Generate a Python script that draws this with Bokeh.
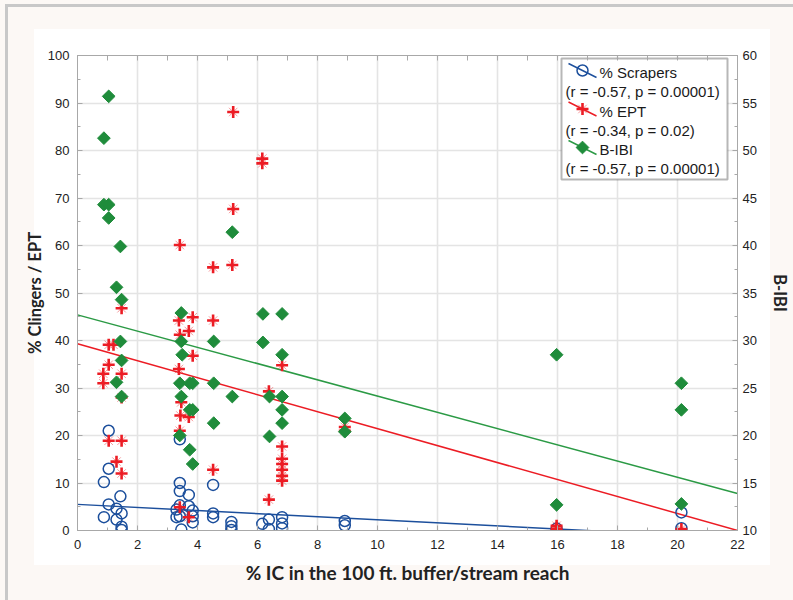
import numpy as np
from bokeh.plotting import figure
from bokeh.models import Range1d, LinearAxis, Label, BoxAnnotation, SingleIntervalTicker, FixedTicker
from bokeh.embed import file_html
from bokeh.resources import INLINE

# ---------------- data ----------------
# % Scrapers (left axis)
scr_x = [1.04, 1.04, 0.88, 1.43, 1.04, 1.30, 1.47, 0.88, 1.30, 1.47, 1.47,
         3.41, 3.41, 3.41, 3.71, 3.41, 3.71, 3.84, 3.30, 3.41, 3.30, 3.84, 3.84, 3.46,
         4.52, 4.52, 4.52, 5.13, 5.13, 5.13,
         6.16, 6.38, 6.38, 6.82, 6.82, 6.82,
         8.91, 8.91, 15.97, 20.13, 20.13]
scr_y = [21.0, 13.0, 10.2, 7.2, 5.5, 4.6, 3.6, 2.8, 2.3, 0.8, 0.1,
         19.2, 10.0, 8.3, 7.5, 5.3, 5.1, 4.2, 4.4, 3.0, 2.8, 3.0, 1.7, 0.2,
         9.6, 3.6, 2.8, 1.8, 0.9, 0.1,
         1.4, 2.3, 0.3, 2.8, 1.5, 0.5,
         2.0, 1.1, 0.4, 3.8, 0.5]

# % EPT (left axis)
ept_x = [1.47, 1.04, 1.20, 1.04, 0.86, 1.47, 0.86, 1.47, 1.04, 1.47, 1.30, 1.47,
         3.41, 3.38, 3.84, 3.41, 3.71, 3.84, 3.38, 3.46, 3.43, 3.71, 3.41, 3.41, 3.71,
         4.52, 4.52, 4.52, 5.19, 5.19, 5.16,
         6.16, 6.16, 6.38, 6.38, 6.82, 6.82, 6.82, 6.82, 6.82, 6.82, 6.82,
         8.91, 8.91, 15.97, 15.97, 20.13]
ept_y = [46.8, 39.1, 39.1, 34.9, 33.0, 33.0, 31.0, 28.0, 18.9, 18.9, 14.5, 12.0,
         60.1, 44.2, 44.9, 41.2, 42.0, 36.8, 34.0, 27.0, 24.2, 23.9, 21.0, 4.9, 2.8,
         55.4, 44.2, 12.8, 88.1, 67.7, 55.9,
         78.3, 77.3, 29.3, 6.5, 34.8, 17.7, 15.1, 14.0, 12.8, 11.5, 10.5,
         21.8, 21.0, 1.0, 0.4, 0.3]

# B-IBI (right axis)
ibi_x = [1.04, 0.88, 0.88, 1.04, 1.04, 1.43, 1.30, 1.47, 1.43, 1.47, 1.30, 1.47,
         3.46, 3.46, 3.49, 3.41, 3.74, 3.84, 3.46, 3.74, 3.84, 3.41, 3.74, 3.84,
         4.54, 4.54, 4.54, 5.16, 5.16,
         6.18, 6.18, 6.40, 6.40, 6.82, 6.82, 6.82, 6.82, 6.82,
         8.91, 8.91, 15.97, 15.97, 20.13, 20.13, 20.13]
ibi_y = [55.7, 51.3, 44.3, 44.3, 42.9, 39.9, 35.6, 34.3, 29.9, 27.9, 25.6, 24.1,
         32.9, 29.9, 28.5, 25.5, 25.5, 25.5, 24.1, 22.7, 22.7, 20.0, 18.5, 17.0,
         29.9, 25.5, 21.3, 41.4, 24.1,
         32.8, 29.8, 24.1, 19.9, 32.8, 28.5, 24.1, 22.7, 21.3,
         21.8, 20.4, 28.5, 12.7, 25.5, 22.7, 12.8]

# fitted lines: [intercept, slope]
fit_x = [0, 22]
scr_fit = [5.5, -0.324]
ept_fit = [39.3, -1.786]
ibi_fit = [32.7, -0.855]

legend_names = ["% Scrapers", "% EPT", "B-IBI"]
legend_stats = ["(r = -0.57, p = 0.00001)", "(r = -0.34, p = 0.02)", "(r = -0.57, p = 0.00001)"]

x_ticks_step, y_ticks_step, ibi_ticks_step = 2, 10, 5
top_minor_ticks = list(range(0, 23))

# ---------------- styles ----------------
BLUE = "#1c4f9c"
RED = "#ec1c24"
GREEN = "#1f8c3b"
GREEN_LINE = "#2b9a45"
AX = "#a8a8a8"
TXT = "#222222"

W, H = 793, 600
FL, FR, FT, FB = 77, 737, 55, 530   # frame edges in figure pixels

p = figure(width=W, height=H, output_backend="svg", toolbar_location=None,
           x_range=Range1d(0, 22), y_range=Range1d(0, 100),
           min_border_left=FL, min_border_right=W - FR,
           min_border_top=FT, min_border_bottom=H - FB)
p.extra_y_ranges = {"ibi": Range1d(10, 60)}

p.border_fill_color = None
p.background_fill_color = "white"
p.outline_line_color = AX
p.styles = {"background": (
    "linear-gradient(#c8c8c8,#c8c8c8) 5px 4px/3px 100% no-repeat, "
    "linear-gradient(#c8c8c8,#c8c8c8) 5px 4px/100% 3px no-repeat, "
    "linear-gradient(#ffffff,#ffffff) 34px 29px/736px 536px no-repeat, "
    "#fcf8f5")}


def style_axis(ax):
    ax.axis_line_color = AX
    ax.major_tick_line_color = AX
    ax.minor_tick_line_color = AX
    ax.major_tick_in = 5
    ax.major_tick_out = 0
    ax.minor_tick_in = 3
    ax.minor_tick_out = 0
    ax.major_label_text_font = "Liberation Sans"
    ax.major_label_text_font_size = "13px"
    ax.major_label_text_color = TXT
    ax.axis_label_text_font = "Lato"
    ax.axis_label_text_font_style = "bold"
    ax.axis_label_text_font_size = "17px"
    ax.axis_label_text_color = TXT


xa = p.xaxis[0]
xa.ticker = SingleIntervalTicker(interval=x_ticks_step, num_minor_ticks=2)
xa.axis_label = "% IC in the 100 ft. buffer/stream reach"
style_axis(xa)
xa.axis_label_text_font_size = "19px"
xa.major_label_standoff = 9
xa.axis_label_standoff = 9

ya = p.yaxis[0]
ya.ticker = SingleIntervalTicker(interval=y_ticks_step, num_minor_ticks=2)
ya.axis_label = "% Clingers / EPT"
style_axis(ya)
ya.axis_label_text_font_size = "16.5px"
ya.major_label_standoff = 8
ya.axis_label_standoff = 0

ra = LinearAxis(y_range_name="ibi", axis_label="B-IBI",
                ticker=SingleIntervalTicker(interval=ibi_ticks_step, num_minor_ticks=2))
style_axis(ra)
ra.axis_label_text_font_size = "16.5px"
ra.major_label_standoff = 5
ra.axis_label_standoff = 10
p.add_layout(ra, "right")

ta = LinearAxis(ticker=FixedTicker(ticks=[], minor_ticks=top_minor_ticks))
style_axis(ta)
ta.minor_tick_in = 5
p.add_layout(ta, "above")

p.xgrid.ticker = SingleIntervalTicker(interval=x_ticks_step)
p.ygrid.ticker = SingleIntervalTicker(interval=y_ticks_step)
p.grid.grid_line_color = "#e4e4e4"
p.grid.grid_line_width = 1.6

# ---------------- fitted lines ----------------
def fit_line(f):
    return [f[0] + f[1] * x for x in fit_x]

p.line(fit_x, fit_line(scr_fit), color=BLUE, line_width=1.5)
p.line(fit_x, fit_line(ept_fit), color=RED, line_width=1.5)
p.line(fit_x, fit_line(ibi_fit), color=GREEN_LINE, line_width=1.5, y_range_name="ibi")

# ---------------- points ----------------
def draw_scr(xs, ys, **kw):
    p.scatter(xs, ys, marker="circle", size=11, fill_color=None,
              line_color=BLUE, line_width=1.5, **kw)

def draw_ept(xs, ys, **kw):
    p.scatter(xs, ys, marker="x", size=12, line_color=RED, line_width=1, line_alpha=0.45, **kw)
    p.scatter(xs, ys, marker="cross", size=12, line_color=RED, line_width=2.6, **kw)

def draw_ibi(xs, ys, **kw):
    p.scatter(xs, ys, marker="square", angle=np.pi / 4, size=9,
              fill_color=GREEN, line_color=GREEN, line_width=1, **kw)

draw_scr(scr_x, scr_y)
draw_ept(ept_x, ept_y)
draw_ibi(ibi_x, ibi_y, y_range_name="ibi")

# ---------------- legend (drawn by hand, positions in canvas pixels) ----------------
def dx(px):
    return (px - FL) / (FR - FL) * 22.0

def dy(py):
    return (FB - py) / (FB - FT) * 100.0

LG_L, LG_R, LG_T, LG_B = 561, 727, 58, 179
p.add_layout(BoxAnnotation(left=dx(LG_L), right=dx(LG_R), top=dy(LG_T), bottom=dy(LG_B),
                           fill_color="white", fill_alpha=1, line_color="#111111",
                           line_width=2, level="underlay"))

row_step = 38.5
drawers = [draw_scr, draw_ept, draw_ibi]
line_cols = [BLUE, RED, GREEN_LINE]
for i in range(3):
    cy = 71 + i * row_step
    p.line([dx(568), dx(596)], [dy(cy - 8), dy(cy + 6)], color=line_cols[i], line_width=1.5)
    if i == 2:
        p.scatter([dx(582)], [dy(cy - 1)], marker="square", angle=np.pi / 4, size=9,
                  fill_color=GREEN, line_color=GREEN)
    else:
        drawers[i]([dx(582)], [dy(cy - 1)])
    p.add_layout(Label(x=dx(599), y=dy(cy + 1), text=legend_names[i],
                       text_font="Liberation Sans", text_font_size="15px",
                       text_color="#1a1a1a", text_baseline="middle"))
    p.add_layout(Label(x=dx(565), y=dy(cy + 20), text=legend_stats[i],
                       text_font="Liberation Sans", text_font_size="15px",
                       text_color="#1a1a1a", text_baseline="middle"))

open("out.html", "w").write(file_html(p, INLINE))
